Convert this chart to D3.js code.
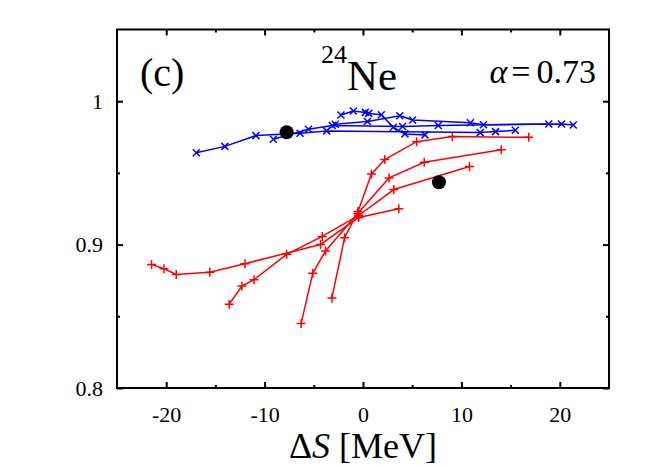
<!DOCTYPE html>
<html>
<head>
<meta charset="utf-8">
<script src="https://cdn.jsdelivr.net/npm/d3@7"></script>
<style>
  body { margin: 0; background: #fff; }
  svg { display: block; font-family: "Liberation Serif", "Times New Roman", serif; }
</style>
</head>
<body>
<div id="chart"></div>
<script>
// ΔS [MeV] and overlap values, one array per curve
const redCurves = [
  { dS: [-3.16, -1.87, -0.51, 0.86, 2.21, 5.45, 9.08, 16.84],
    val: [0.8628, 0.9048, 0.9231, 0.9493, 0.9593, 0.9718, 0.9753, 0.9748] },
  { dS: [-6.29, -5.10, -3.81, -0.54, 2.65, 6.22, 14.05],
    val: [0.8449, 0.8801, 0.8955, 0.9217, 0.9465, 0.9574, 0.9662] },
  { dS: [-13.60, -12.31, -11.08, -7.76, -4.14, -0.44, 3.13, 10.82],
    val: [0.8584, 0.8711, 0.8755, 0.8932, 0.9057, 0.9203, 0.9384, 0.9544] },
  { dS: [-21.49, -20.23, -18.98, -15.57, -12.0, -4.32, -0.44, 3.64],
    val: [0.8862, 0.8832, 0.8792, 0.8808, 0.8867, 0.9001, 0.9189, 0.9250] }
];

const blueCurves = [
  { dS: [-16.94, -14.04, -10.88, -6.39, -3.70, 11.91, 13.47, 15.48],
    val: [0.964, 0.9685, 0.976, 0.9776, 0.9793, 0.9781, 0.9788, 0.9797] },
  { dS: [-9.11, -5.54, -3.12, 4.02, 7.65, 18.88],
    val: [0.9734, 0.9804, 0.9830, 0.9823, 0.9830, 0.9841] },
  { dS: [-2.82, 0.45, 3.74, 5.04, 10.92, 12.24, 20.17, 21.37],
    val: [0.9839, 0.9859, 0.9899, 0.9869, 0.9850, 0.9836, 0.9841, 0.9834] },
  { dS: [-2.24, -0.98, 0.24, 0.58, 1.86, 3.08, 4.26, 6.30],
    val: [0.9904, 0.9932, 0.9922, 0.9915, 0.9906, 0.9818, 0.9772, 0.9765] }
];

// the two big black dots
const dotsDS = [-7.76, 7.72];
const dotsVal = [0.9783, 0.9435];

const xMajor = [-20, -10, 0, 10, 20];
const xMinor = [-15, -5, 5, 15];
const yMajor = [0.8, 0.9, 1];
const yMinor = [0.85, 0.95];

const W = 664, H = 465;
const frame = { left: 117, right: 609, top: 29.5, bottom: 388 };

const x = d3.scaleLinear().domain([-25, 25]).range([frame.left, frame.right]);
const y = d3.scaleLinear().domain([0.8, 1.05]).range([frame.bottom, frame.top]);

const svg = d3.select("#chart").append("svg")
    .attr("width", W)
    .attr("height", H);

const fmtY = d => d === 1 ? "1" : d3.format(".1f")(d);
const fmtX = d => String(d);   // plain hyphen, like the original

// axes: ticks point inward, mirrored on all sides
function axisGroup(axis, tx, ty) {
    const g = svg.append("g")
        .attr("transform", "translate(" + tx + "," + ty + ")")
        .call(axis);
    g.select(".domain").remove();
    g.selectAll("line").attr("stroke", "#000").attr("stroke-width", 2);
    g.selectAll("text").attr("font-size", 22).attr("fill", "#000")
        .attr("font-family", "Liberation Serif, serif");
    return g;
}

axisGroup(d3.axisBottom(x).tickValues(xMajor).tickSizeInner(-6).tickSizeOuter(0)
    .tickPadding(18).tickFormat(fmtX), 0, frame.bottom);
axisGroup(d3.axisBottom(x).tickValues(xMinor).tickSizeInner(-3).tickSizeOuter(0)
    .tickFormat(""), 0, frame.bottom);
axisGroup(d3.axisTop(x).tickValues(xMajor).tickSizeInner(-6).tickSizeOuter(0)
    .tickFormat(""), 0, frame.top);
axisGroup(d3.axisTop(x).tickValues(xMinor).tickSizeInner(-3).tickSizeOuter(0)
    .tickFormat(""), 0, frame.top);

axisGroup(d3.axisLeft(y).tickValues(yMajor).tickSizeInner(-6).tickSizeOuter(0)
    .tickPadding(14).tickFormat(fmtY), frame.left, 0);
axisGroup(d3.axisLeft(y).tickValues(yMinor).tickSizeInner(-3).tickSizeOuter(0)
    .tickFormat(""), frame.left, 0);
axisGroup(d3.axisRight(y).tickValues(yMajor).tickSizeInner(-6).tickSizeOuter(0)
    .tickFormat(""), frame.right, 0);
axisGroup(d3.axisRight(y).tickValues(yMinor).tickSizeInner(-3).tickSizeOuter(0)
    .tickFormat(""), frame.right, 0);

// curves
const line = d3.line().x(d => x(d[0])).y(d => y(d[1]));
const pts = c => c.dS.map((v, i) => [v, c.val[i]]);

function drawCurves(curves, color, marker) {
    const g = svg.append("g");
    curves.forEach(c => {
        const p = pts(c);
        g.append("path")
            .attr("d", line(p))
            .attr("fill", "none")
            .attr("stroke", color)
            .attr("stroke-width", 1.5);
        g.selectAll(null)
            .data(p)
            .enter()
            .append("path")
            .attr("transform", d => "translate(" + x(d[0]) + "," + y(d[1]) + ")")
            .attr("d", marker)
            .attr("stroke", color)
            .attr("stroke-width", 1.5)
            .attr("fill", "none");
    });
}

drawCurves(redCurves, "#ff0000", "M-4.5,0H4.5M0,-4.5V4.5");
drawCurves(blueCurves, "#0000ff", "M-3.5,-3.5L3.5,3.5M-3.5,3.5L3.5,-3.5");

svg.append("g").selectAll("circle")
    .data(dotsDS.map((v, i) => [v, dotsVal[i]]))
    .enter()
    .append("circle")
    .attr("cx", d => x(d[0]))
    .attr("cy", d => y(d[1]))
    .attr("r", 7)
    .attr("fill", "#000");

// frame
svg.append("rect")
    .attr("x", frame.left)
    .attr("y", frame.top)
    .attr("width", frame.right - frame.left)
    .attr("height", frame.bottom - frame.top)
    .attr("fill", "none")
    .attr("stroke", "#000")
    .attr("stroke-width", 2);

// labels
svg.append("text")
    .attr("x", 140).attr("y", 86)
    .attr("font-size", 40)
    .text("(c)");

const ne = svg.append("text")
    .attr("x", 321).attr("y", 90)
    .attr("font-size", 43);
ne.append("tspan").attr("font-size", 26).attr("dy", -27).text("24");
ne.append("tspan").attr("dy", 27).text("Ne");

const al = svg.append("text")
    .attr("x", 596).attr("y", 83)
    .attr("text-anchor", "end")
    .attr("font-size", 34);
al.append("tspan").attr("font-style", "italic").text("α");
al.append("tspan").attr("dx", 4).text("=");
al.append("tspan").attr("dx", 6).text("0.73");

const xt = svg.append("text")
    .attr("x", (frame.left + frame.right) / 2).attr("y", 458)
    .attr("text-anchor", "middle")
    .attr("font-size", 36);
xt.append("tspan").text("Δ");
xt.append("tspan").attr("font-style", "italic").text("S");
xt.append("tspan").text(" [MeV]");
</script>
</body>
</html>
